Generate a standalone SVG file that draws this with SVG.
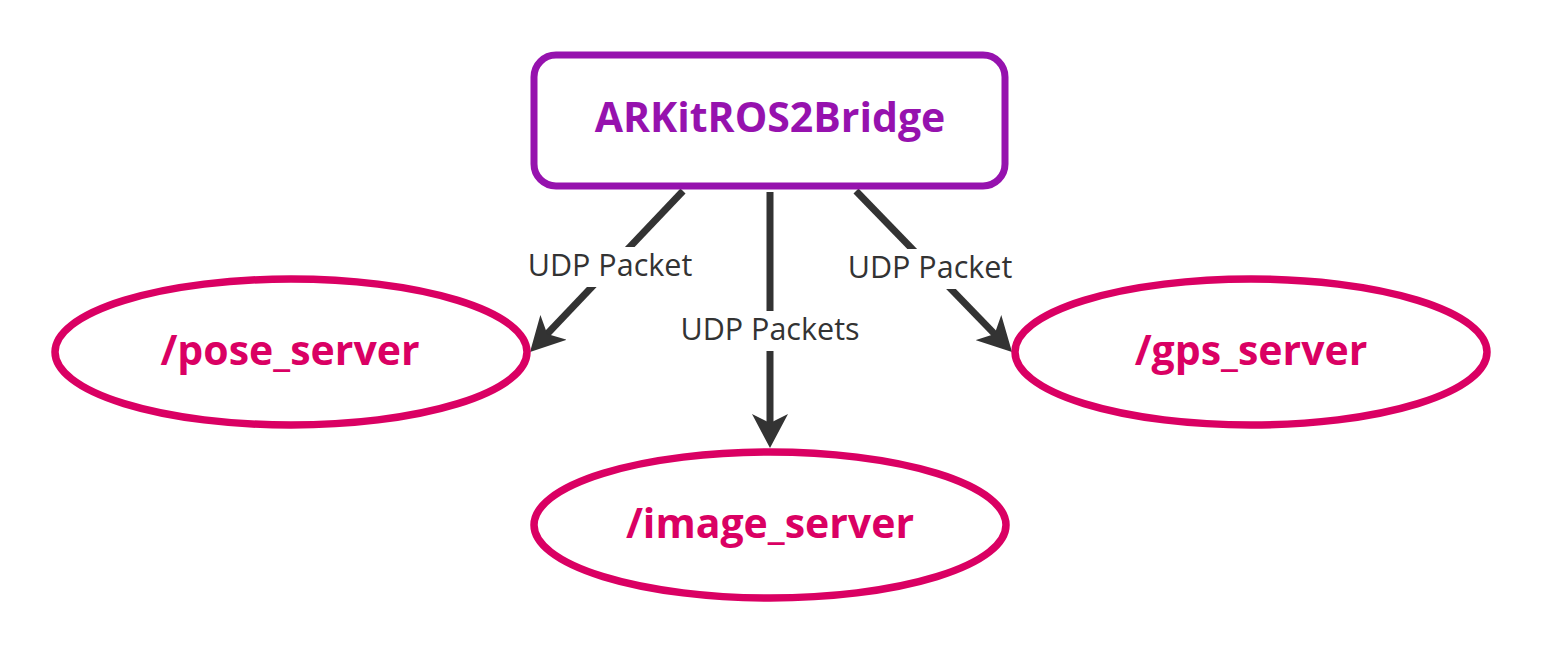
<svg xmlns="http://www.w3.org/2000/svg" width="1541" height="648" viewBox="0 0 1541 648">
<style>
.bg{fill:#ffffff}
.node-title{font-family:"Open Sans","DejaVu Sans",sans-serif;font-weight:bold;font-size:41px;text-anchor:middle}
.ell{fill:#ffffff;stroke:#DA0063;stroke-width:7.5}
.ell-t{fill:#DA0063}
.edge{fill:none;stroke:#333333;stroke-width:7}
.lbl-bg{fill:#ffffff}
.lbl{font-family:"Open Sans","DejaVu Sans",sans-serif;font-size:30.5px;fill:#333333;text-anchor:middle}
</style>
<defs>
<marker id="arrow" viewBox="0 0 34 36" markerWidth="34" markerHeight="36" refX="14" refY="18" orient="auto" markerUnits="userSpaceOnUse">
<path d="M0,0 L34,18 L0,36 L9,18 z" fill="#333333"/>
</marker>
</defs>
<rect class="bg" x="0" y="0" width="1541" height="648"/>
<g id="edges">
<path class="edge" d="M683,191 L543.8,337.5" marker-end="url(#arrow)"/>
<path class="edge" d="M770,192 L770,428" marker-end="url(#arrow)"/>
<path class="edge" d="M856,191 L998.1,337.6" marker-end="url(#arrow)"/>
<g id="edge-labels">
<rect class="lbl-bg" x="526" y="247" width="169" height="40"/>
<text class="lbl" x="610" y="276">UDP Packet</text>
<rect class="lbl-bg" x="677" y="311" width="186" height="40"/>
<text class="lbl" x="770" y="340">UDP Packets</text>
<rect class="lbl-bg" x="845" y="249" width="170" height="40"/>
<text class="lbl" x="930" y="278">UDP Packet</text>
</g>
</g>
<g id="ARKitROS2Bridge">
<rect x="534" y="55" width="471" height="131" rx="22" ry="22" fill="#ffffff" stroke="#9612AE" stroke-width="7"/>
<text class="node-title" x="770" y="132" fill="#9612AE">ARKitROS2Bridge</text>
</g>
<g id="pose_server">
<ellipse class="ell" cx="291" cy="352" rx="236" ry="73"/>
<text class="node-title ell-t" x="290" y="365">/pose_server</text>
</g>
<g id="image_server">
<ellipse class="ell" cx="770" cy="525" rx="236" ry="73"/>
<text class="node-title ell-t" x="770" y="538">/image_server</text>
</g>
<g id="gps_server">
<ellipse class="ell" cx="1251" cy="352" rx="236" ry="73"/>
<text class="node-title ell-t" x="1251" y="365">/gps_server</text>
</g>
</svg>
